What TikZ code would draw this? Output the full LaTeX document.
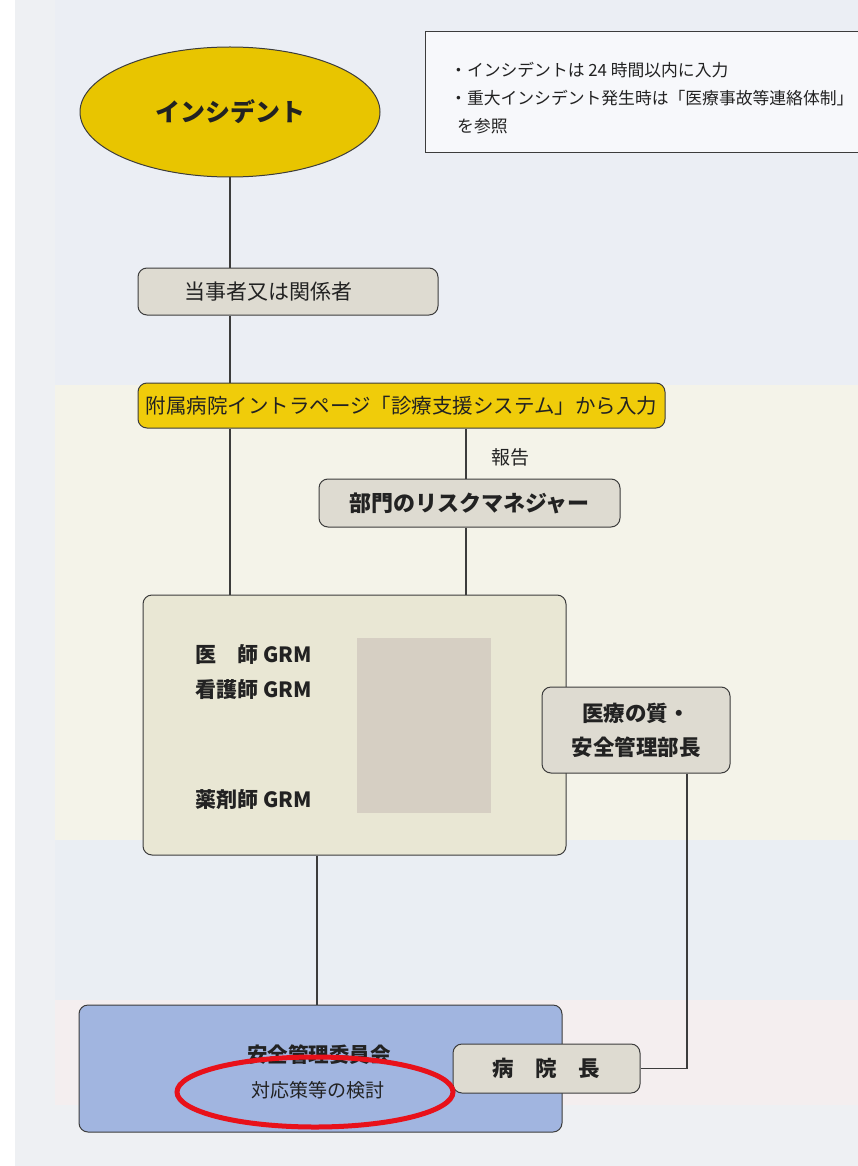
\documentclass[tikz,border=0pt]{standalone}
\usepackage{fontspec}
\setmainfont{Noto Sans CJK JP}
\usetikzlibrary{shapes.geometric}
\definecolor{bgtop}{RGB}{235,238,244}
\definecolor{bgmid}{RGB}{244,243,233}
\definecolor{bglow}{RGB}{234,238,243}
\definecolor{bgpink}{RGB}{244,238,239}
\definecolor{bgside}{RGB}{238,240,243}
\definecolor{gold}{RGB}{232,197,0}
\definecolor{goldbox}{RGB}{240,204,10}
\definecolor{greybox}{RGB}{222,219,209}
\definecolor{beige}{RGB}{233,231,212}
\definecolor{redact}{RGB}{214,207,195}
\definecolor{bluebox}{RGB}{161,181,224}
\definecolor{markred}{RGB}{232,17,26}
\definecolor{ink}{RGB}{34,34,34}
\definecolor{edge}{RGB}{60,60,60}
\tikzset{
  box/.style={draw=edge, line width=1pt, rounded corners=9pt, text=ink, inner sep=0pt, anchor=center},
  link/.style={draw=edge, line width=1.5pt},
  txt/.style={text=ink, inner sep=0pt},
  infotxt/.style={txt, anchor=west, font=\fontsize{16.8}{19}\selectfont},
}
\begin{document}
\begin{tikzpicture}[x=1pt,y=-1pt]
\useasboundingbox (0,0) rectangle (858,1166);
% background
\fill[white] (0,0) rectangle (858,1166);
\fill[bgside] (15,0) rectangle (858,1166);
\fill[bgtop] (55,0) rectangle (858,385);
\fill[bgmid] (55,385) rectangle (858,840);
\fill[bglow] (55,840) rectangle (858,1000);
\fill[bgpink] (55,1000) rectangle (858,1105);
% info box
\node[draw=edge, line width=1pt, fill=white!60!bgtop, minimum width=445pt, minimum height=121pt, inner sep=0pt] (info) at (647.5,92.5) {};
\node[infotxt] (info1) at (450,70) {・インシデントは 24 時間以内に入力};
\node[infotxt] (info2) at (450,98) {・重大インシデント発生時は「医療事故等連絡体制」};
\node[infotxt] (info3) at (457,126) {を参照};
% nodes
\node[draw=edge, line width=1pt, ellipse, fill=gold, minimum width=300pt, minimum height=130pt, inner sep=0pt, text=ink, font=\fontsize{25}{28}\selectfont\bfseries] (inc) at (230,112) {インシデント};
\node[box, fill=greybox, minimum width=300pt, minimum height=47pt] (toji) at (288,291.5) {};
\node[txt, font=\fontsize{21}{24}\selectfont] (tojit) at (268,291.5) {当事者又は関係者};
\node[box, fill=goldbox, minimum width=527pt, minimum height=45pt, font=\fontsize{20.5}{24}\selectfont] (intra) at (401.5,405.5) {附属病院イントラページ「診療支援システム」から入力};
\node[box, fill=greybox, minimum width=301pt, minimum height=48pt, font=\fontsize{22}{24}\selectfont\bfseries] (risk) at (469.5,503) {部門のリスクマネジャー};
\node[txt, font=\fontsize{19}{20}\selectfont] (hokoku) at (510,457) {報告};
\node[box, fill=beige, minimum width=423pt, minimum height=260pt] (grm) at (354.5,725) {};
\fill[redact] (357,638) rectangle (491,813);
\node[txt, anchor=west, font=\fontsize{21}{22}\selectfont\bfseries] (g1) at (195,655) {医　師 GRM};
\node[txt, anchor=west, font=\fontsize{21}{22}\selectfont\bfseries] (g2) at (195,690) {看護師 GRM};
\node[txt, anchor=west, font=\fontsize{21}{22}\selectfont\bfseries] (g3) at (195,800) {薬剤師 GRM};
\node[box, fill=greybox, minimum width=188pt, minimum height=86pt, align=center, font=\fontsize{21.5}{34}\selectfont\bfseries] (qual) at (636,730) {医療の質・\\安全管理部長};
\node[box, fill=bluebox, minimum width=483pt, minimum height=127pt] (comm) at (320.5,1068.5) {};
\node[txt, font=\fontsize{20.5}{22}\selectfont\bfseries] (comm1) at (319,1055) {安全管理委員会};
\node[txt, font=\fontsize{19}{20}\selectfont] (comm2) at (318,1090) {対応策等の検討};
\node[box, fill=greybox, minimum width=187pt, minimum height=49pt, font=\fontsize{21.5}{24}\selectfont\bfseries] (hosp) at (546.5,1068.5) {病　院　長};
% connectors
\draw[link] (inc.south) -- (inc.south |- toji.north);
\draw[link] (inc.south |- toji.south) -- (inc.south |- intra.north);
\draw[link] (inc.south |- intra.south) -- (inc.south |- grm.north);
\draw[link] (466,0 |- intra.south) -- (466,0 |- risk.north);
\draw[link] (466,0 |- risk.south) -- (466,0 |- grm.north);
\coordinate (qbend) at (687,1068.5);
\draw[link] (687,0 |- qual.south) -- (qbend) -- (hosp.east);
\draw[link] (317,0 |- grm.south) -- (317,0 |- comm.north);
% red mark
\node[draw=markred, line width=5pt, ellipse, minimum width=276pt, minimum height=70pt, inner sep=0pt] (mark) at (315,1092) {};
\end{tikzpicture}
\end{document}
